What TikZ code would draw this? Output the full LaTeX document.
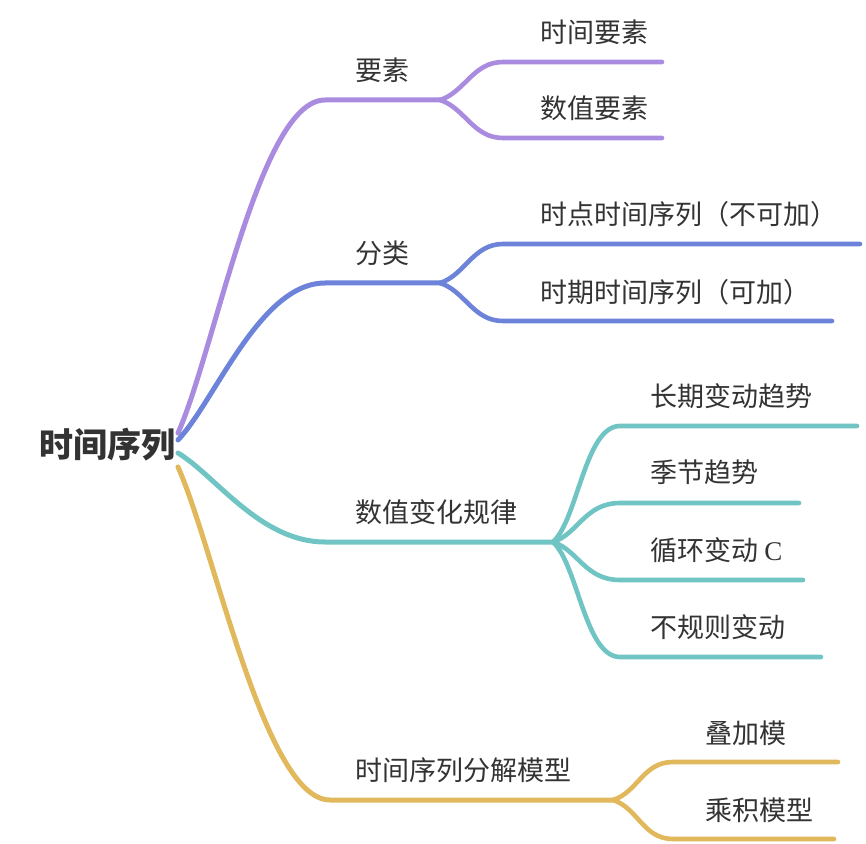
\documentclass[tikz,border=0pt]{standalone}
\usepackage{fontspec}
\setmainfont{Noto Sans CJK SC}
\newfontfamily\latinserif{Liberation Serif}
\usetikzlibrary{calc}

\definecolor{elemcol}{RGB}{169,139,224}
\definecolor{kindcol}{RGB}{108,131,217}
\definecolor{lawcol}{RGB}{112,196,196}
\definecolor{modelcol}{RGB}{225,184,92}

\begin{document}
\begin{tikzpicture}[
    x=0.5pt, y=-0.5pt,
    every node/.style={
        anchor=west, inner sep=0pt, text=black!80,
        font=\fontsize{13.5}{16}\selectfont
    },
    root/.style  ={anchor=east, font=\fontsize{17}{20}\selectfont\bfseries},
    branch/.style={line width=2.5pt, line cap=round},
    twig/.style  ={line width=2.3pt, line cap=round},
    elem/.style  ={draw=elemcol},
    kind/.style  ={draw=kindcol},
    law/.style   ={draw=lawcol},
    model/.style ={draw=modelcol}
]
\useasboundingbox (0,0) rectangle (866,844);

\node [root] (ts) at (176,445) {时间序列};

\node (ys)  at (355,70)  {要素};
\node (ys1) at (540,32)  {时间要素};
\node (ys2) at (540,108) {数值要素};
\node (fl)  at (355,253) {分类};
\node (fl1) at (540,214) {时点时间序列（不可加）};
\node (fl2) at (540,292) {时期时间序列（可加）};
\node (gl)  at (355,512) {数值变化规律};
\node (gl1) at (650,396) {长期变动趋势};
\node (gl2) at (650,472) {季节趋势};
\node (gl3) at (650,550) {循环变动 {\latinserif C}};
\node (gl4) at (650,627) {不规则变动};
\node (mx)  at (355,770) {时间序列分解模型};
\node (mx1) at (705,733) {叠加模};
\node (mx2) at (705,810) {乘积模型};

\coordinate (ys-a)  at (325,100); \coordinate (ys-b)  at (440,100);
\coordinate (ys1-a) at (503,62);  \coordinate (ys1-b) at (662,62);
\coordinate (ys2-a) at (503,138); \coordinate (ys2-b) at (662,138);
\coordinate (fl-a)  at (325,283); \coordinate (fl-b)  at (440,283);
\coordinate (fl1-a) at (503,244); \coordinate (fl1-b) at (860,244);
\coordinate (fl2-a) at (503,321); \coordinate (fl2-b) at (832,321);
\coordinate (gl-a)  at (325,542); \coordinate (gl-b)  at (553,542);
\coordinate (gl1-a) at (620,426); \coordinate (gl1-b) at (857,426);
\coordinate (gl2-a) at (620,503); \coordinate (gl2-b) at (799,503);
\coordinate (gl3-a) at (620,580); \coordinate (gl3-b) at (803,580);
\coordinate (gl4-a) at (620,657); \coordinate (gl4-b) at (821,657);
\coordinate (mx-a)  at (330,800); \coordinate (mx-b)  at (613,800);
\coordinate (mx1-a) at (673,762); \coordinate (mx1-b) at (838,762);
\coordinate (mx2-a) at (673,839); \coordinate (mx2-b) at (834,839);

\draw [branch, elem]  ($(ts.east)+(2,-12)$) .. controls +(37,-83) and +(-65,0) .. (ys-a) -- (ys-b);
\draw [branch, kind]  ($(ts.east)+(2,-5)$)  .. controls +(37,-39) and +(-65,0) .. (fl-a) -- (fl-b);
\draw [branch, law]   ($(ts.east)+(2,8)$)   .. controls +(37,22)  and +(-65,0) .. (gl-a) -- (gl-b);
\draw [branch, model] ($(ts.east)+(2,22)$)  .. controls +(37,83)  and +(-65,0) .. (mx-a) -- (mx-b);

\draw [twig, elem]  (ys-b) .. controls +(25,-8)  and +(-30,0) .. (ys1-a) -- (ys1-b);
\draw [twig, elem]  (ys-b) .. controls +(25,8)   and +(-30,0) .. (ys2-a) -- (ys2-b);
\draw [twig, kind]  (fl-b) .. controls +(25,-8)  and +(-30,0) .. (fl1-a) -- (fl1-b);
\draw [twig, kind]  (fl-b) .. controls +(25,8)   and +(-30,0) .. (fl2-a) -- (fl2-b);
\draw [twig, law]   (gl-b) .. controls +(25,-23) and +(-35,0) .. (gl1-a) -- (gl1-b);
\draw [twig, law]   (gl-b) .. controls +(25,-8)  and +(-35,0) .. (gl2-a) -- (gl2-b);
\draw [twig, law]   (gl-b) .. controls +(25,8)   and +(-35,0) .. (gl3-a) -- (gl3-b);
\draw [twig, law]   (gl-b) .. controls +(25,23)  and +(-35,0) .. (gl4-a) -- (gl4-b);
\draw [twig, model] (mx-b) .. controls +(25,-8)  and +(-30,0) .. (mx1-a) -- (mx1-b);
\draw [twig, model] (mx-b) .. controls +(25,8)   and +(-30,0) .. (mx2-a) -- (mx2-b);
\end{tikzpicture}
\end{document}
